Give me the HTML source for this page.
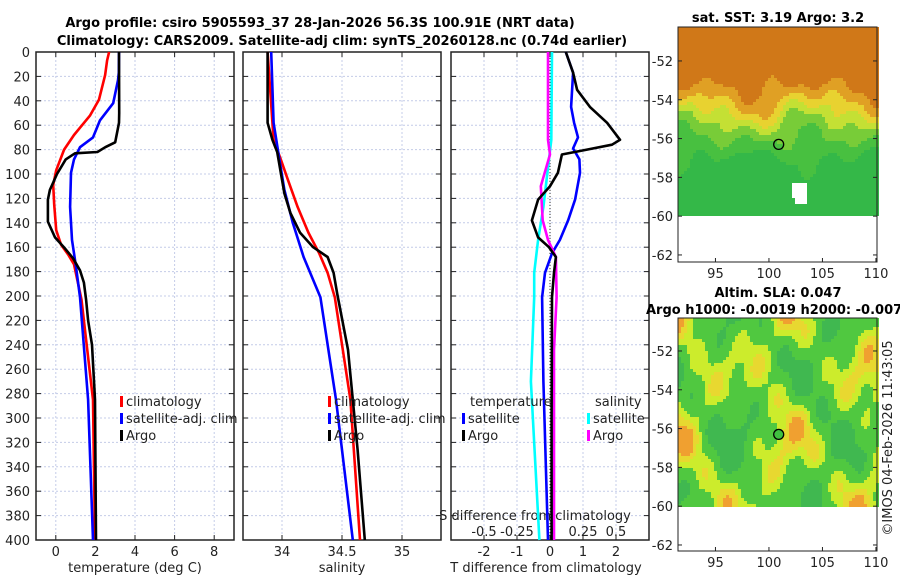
<!DOCTYPE html>
<html><head><meta charset="utf-8"><style>
body{margin:0;background:#fff}
svg{display:block;font-family:"DejaVu Sans","Liberation Sans",sans-serif}
</style></head><body>
<svg id="s" width="900" height="580" viewBox="0 0 900 580"></svg>
<script>
// ---- data ----
const tDepth=[0,17,23,42,56,70,78,88,99,127,154,176,201,285,400];
const tBlue=[3.19,3.18,3.14,2.9,2.23,1.88,1.22,0.92,0.77,0.72,0.82,1.02,1.22,1.63,1.88];
const tRedDepth=[0,7,19,39,52,68,80,97,109,125,146,158,166,174,203,285,400];
const tRed=[2.69,2.59,2.49,2.18,1.73,0.92,0.42,0.02,-0.13,-0.08,0.02,0.27,0.62,0.92,1.3,1.88,1.98];
const tArgoDepth=[0,50,58,74,78,82,83,88,100,113,121,139,152,160,169,179,189,203,220,240,285,400];
const tArgo=[3.19,3.2,3.19,3.0,2.5,2.1,0.97,0.5,0.06,-0.3,-0.4,-0.4,-0.04,0.41,0.87,1.22,1.42,1.53,1.63,1.83,1.98,2.03];
const sArgoDepth=[0,58,72,82,99,116,132,148,160,168,181,198,244,285,326,400];
const sArgo=[33.88,33.88,33.92,33.96,33.99,34.02,34.07,34.15,34.26,34.38,34.43,34.46,34.55,34.59,34.63,34.69];
const sRedDepth=[0,72,88,105,127,148,165,181,201,285,400];
const sRed=[33.88,33.93,33.99,34.05,34.13,34.22,34.31,34.38,34.44,34.57,34.65];
const sBlueDepth=[0,58,86,113,140,168,201,285,400];
const sBlue=[33.91,33.93,33.975,34.02,34.09,34.18,34.32,34.45,34.59];
const dBlueDepth=[0,17,45,58,70,79,88,99,121,138,154,165,181,201,270,400];
const dBlue=[0.48,0.7,0.64,0.73,0.85,0.7,0.89,0.91,0.76,0.55,0.3,0.06,-0.15,-0.24,-0.2,-0.06];
const dArgoDepth=[0,17,31,45,58,72,76,80,84,99,110,121,138,152,160,168,181,201,300,400];
const dArgo=[0.48,0.7,0.82,1.21,1.73,2.12,1.88,1.12,0.36,0.24,0.0,-0.36,-0.55,-0.36,-0.03,0.18,0.12,0.06,0.05,0.05];
const sdArgoDepth=[0,72,84,110,138,154,168,201,244,400];
const sdArgo=[-0.015,-0.015,0,-0.07,-0.055,-0.015,0.045,0.05,0.03,0.03];
const sdCyanDepth=[0,72,99,127,154,181,201,270,400];
const sdCyan=[0.015,0.01,-0.02,-0.05,-0.09,-0.12,-0.12,-0.145,-0.08];
const depthTicks=[0,20,40,60,80,100,120,140,160,180,200,220,240,260,280,300,320,340,360,380,400];
const tTicks=[0,2,4,6,8], sTicks=[34,34.5,35], dTicks=[-2,-1,0,1,2], sdTicks=[-0.5,-0.25,0,0.25,0.5];
const latTicks=[-52,-54,-56,-58,-60,-62], lonTicks=[95,100,105,110];

const S=document.getElementById('s'),NS='http://www.w3.org/2000/svg';
function el(t,a,p){const e=document.createElementNS(NS,t);for(const k in a)e.setAttribute(k,a[k]);(p||S).appendChild(e);return e;}
function txt(x,y,s,a,p){const e=el('text',Object.assign({x:x,y:y,'font-size':13,fill:'#222'},a||{}),p);e.textContent=s;return e;}
const Y=d=>52+d*1.22;
const panels=[{x0:36,x1:234,lo:-1,hi:9},{x0:243,x1:441,lo:33.675,hi:35.325},{x0:451,x1:649,lo:-3,hi:3}];
function X(p,v){const q=panels[p];return q.x0+(v-q.lo)/(q.hi-q.lo)*(q.x1-q.x0);}
function line(p,vals,deps,col,name,scale){
  const pts=vals.map((v,i)=>X(p,v*(scale||1)).toFixed(1)+','+Y(deps[i]).toFixed(1)).join(' ');
  const e=el('polyline',{points:pts,fill:'none',stroke:col,'stroke-width':2.6,'stroke-linejoin':'round'});
  
  
}
let t=txt(320,27,'Argo profile: csiro 5905593_37 28-Jan-2026 56.3S 100.91E (NRT data)',{'text-anchor':'middle','font-weight':'bold','fill':'#000'});

t=txt(342,45,'Climatology: CARS2009. Satellite-adj clim: synTS_20260128.nc (0.74d earlier)',{'text-anchor':'middle','font-weight':'bold','fill':'#000'});


panels.forEach((q,pi)=>{
  const g=el('g',{});
  
  
  const xt=pi==0?tTicks:pi==1?sTicks:dTicks;
  depthTicks.forEach(d=>{el('line',{x1:q.x0,x2:q.x1,y1:Y(d),y2:Y(d),stroke:'#c4cce8','stroke-dasharray':'2,2','stroke-width':1},g);
    el('line',{x1:q.x0,x2:q.x0+5,y1:Y(d),y2:Y(d),stroke:'#222'},g);el('line',{x1:q.x1,x2:q.x1-5,y1:Y(d),y2:Y(d),stroke:'#222'},g);
    if(pi==0)txt(30,Y(d)+5,String(d),{'text-anchor':'end'},g);});
  xt.forEach(v=>{const x=X(pi,v);el('line',{x1:x,x2:x,y1:52,y2:540,stroke:'#c4cce8','stroke-dasharray':'2,2'},g);
    el('line',{x1:x,x2:x,y1:540,y2:535,stroke:'#222'},g);el('line',{x1:x,x2:x,y1:52,y2:57,stroke:'#222'},g);
    txt(x,556,String(v),{'text-anchor':'middle'},g);});
  el('rect',{x:q.x0,y:52,width:q.x1-q.x0,height:488,fill:'none',stroke:'#222','stroke-width':1.5},g);
});
t=txt(135,572,'temperature (deg C)',{'text-anchor':'middle'});
t=txt(342,572,'salinity',{'text-anchor':'middle'});
t=txt(546,572,'T difference from climatology',{'text-anchor':'middle'});
t=txt(535,520,'S difference from climatology',{'text-anchor':'middle'});
sdTicks.forEach(v=>{const e=txt(X(2,v*4),536,String(v),{'text-anchor':'middle'});});
el('line',{x1:X(2,0),x2:X(2,0),y1:52,y2:540,stroke:'#333','stroke-dasharray':'1,2','stroke-width':1});
line(0,tRed,tRedDepth,'#f00','temp-climatology');
line(0,tBlue,tDepth,'#00f','temp-satellite-clim');
line(0,tArgo,tArgoDepth,'#000','temp-argo');
line(1,sRed,sRedDepth,'#f00','sal-climatology');
line(1,sBlue,sBlueDepth,'#00f','sal-satellite-clim');
line(1,sArgo,sArgoDepth,'#000','sal-argo');
line(2,sdCyan,sdCyanDepth,'#0ff','sdiff-satellite',4);
line(2,dBlue,dBlueDepth,'#00f','tdiff-satellite');
line(2,sdArgo,sdArgoDepth,'#f0f','sdiff-argo',4);
line(2,dArgo,dArgoDepth,'#000','tdiff-argo');
function leg(x,y,c,s,n){const g=el('g',{});
  el('rect',{x:x,y:y-10,width:3,height:11,fill:c},g);txt(x+6,y,s,{},g);}
[[0,'climatology','#f00'],[1,'satellite-adj. clim','#00f'],[2,'Argo','#000']].forEach(([i,s,c])=>{
  leg(120,406+i*17,c,s,'legend-temp-'+i);leg(328,406+i*17,c,s,'legend-sal-'+i);});
txt(470,406,'temperature');txt(595,406,'salinity');
leg(462,423,'#00f','satellite','legend-tdiff-satellite');leg(462,440,'#000','Argo','legend-tdiff-argo');
leg(587,423,'#0ff','satellite','legend-sdiff-satellite');leg(587,440,'#f0f','Argo','legend-sdiff-argo');
function noise(x,y,s){return Math.sin(x*0.55+s)*Math.cos(y*0.9+s*2)+0.5*Math.sin(x*1.1+y*1.3+s)+0.3*Math.cos(x*2.0-y*1.8+s*3);}
function mkMap(top,bot,colBot,kind,name){
  const g=el('g',{});
  const x0=678,x1=877,cs=3;const lat0=kind?-50.25:-50.3;
  for(let y=top;y<colBot;y+=cs)for(let x=x0;x<x1;x+=cs){
    const lon=91.5+(x-x0)/10.7,lat=lat0-(y-top)/19.4;let c;
    const n=noise(lon,lat,kind?1:5);
    if(kind){const v=(lat+55.5)/3+0.22*n;
      if(lat<-58.2&&lon>100.3&&lon<103.5&&n>0.2){c='#fff';}
      else c=v>0.75?'#d07818':v>0.5?'#e0a024':v>0.3?'#e8d230':v>0.1?'#c4e034':v>-0.15?'#78cc38':v>-0.45?'#48c040':'#34b848';}
    else{const v=n+0.3*Math.sin(lon*0.7);
      c=v>1.25?'#f0a030':v>0.75?'#e8d830':v>0.2?'#ccec2c':v>-0.7?'#50c840':'#40b850';}
    el('rect',{x:x,y:y,width:cs,height:cs,fill:c},g);}
  el('rect',{x:x0,y:top,width:x1-x0,height:bot-top,fill:'none',stroke:'#222'},g);
  latTicks.forEach(l=>{const y=top+(lat0-l)*19.4;el('line',{x1:x0,x2:x0+4,y1:y,y2:y,stroke:'#222'},g);el('line',{x1:x1,x2:x1-4,y1:y,y2:y,stroke:'#222'},g);txt(673,y+5,String(l),{'text-anchor':'end'},g);});
  lonTicks.forEach(l=>{const x=x0+(l-91.5)*10.7;el('line',{x1:x,x2:x,y1:bot,y2:bot-4,stroke:'#222'},g);txt(x,bot+16,String(l),{'text-anchor':'middle'},g);});
  const mx=x0+(100.91-91.5)*10.7,my=top+(lat0+56.3)*19.4;
  const c=el('circle',{cx:mx,cy:my,r:5,fill:kind?'none':'#40c040',stroke:'#000','stroke-width':1.3},g);
  
}
mkMap(27,262,216,1,'sst-map');
mkMap(318,551,506,0,'sla-map');
t=txt(778,22,'sat. SST: 3.19 Argo: 3.2',{'text-anchor':'middle','font-weight':'bold','fill':'#000'});
t=txt(778,297,'Altim. SLA: 0.047',{'text-anchor':'middle','font-weight':'bold','fill':'#000'});
t=txt(646,314,'Argo h1000: -0.0019 h2000: -0.007',{'font-weight':'bold','fill':'#000'});
t=txt(0,0,'©IMOS 04-Feb-2026 11:43:05',{'text-anchor':'middle',transform:'translate(892,438) rotate(-90)'});
</script>
</body></html>
